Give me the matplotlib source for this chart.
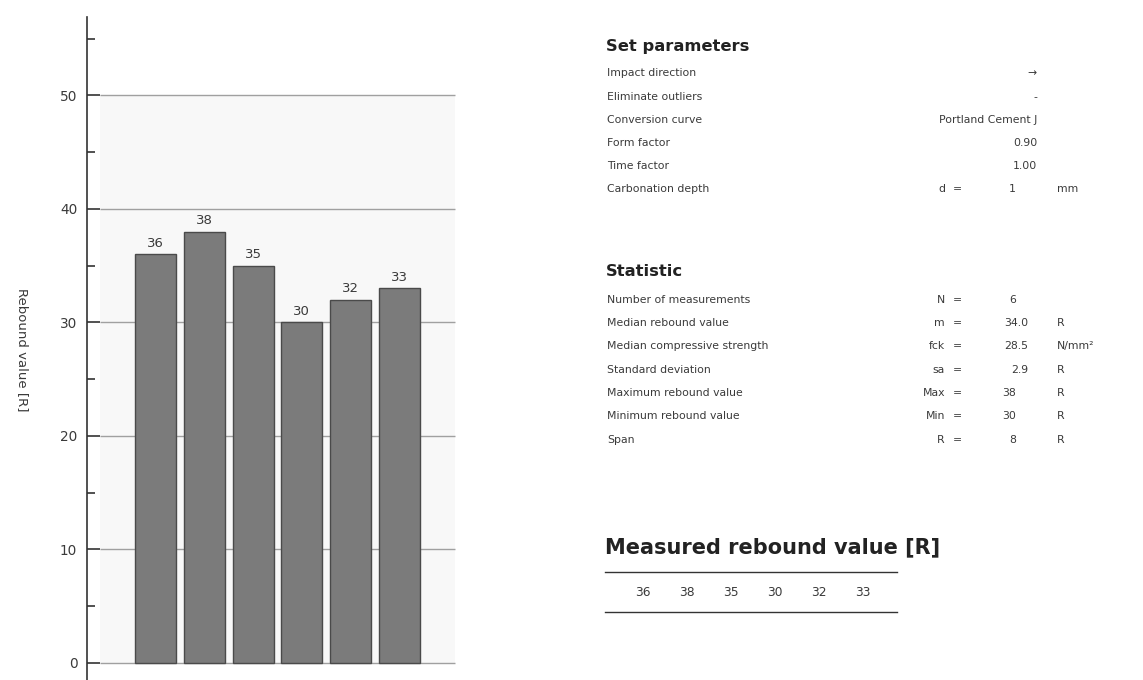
import numpy as np
import matplotlib
matplotlib.use("Agg")
from matplotlib import pyplot as plt
from matplotlib.lines import Line2D

# Data
readings = [36, 38, 35, 30, 32, 33]

param_labels = ["Impact direction", "Eliminate outliers", "Conversion curve",
                "Form factor", "Time factor", "Carbonation depth"]
param_values = ["\u2192", "-", "Portland Cement J", "0.90", "1.00", "1"]

stat_labels = ["Number of measurements", "Median rebound value",
               "Median compressive strength", "Standard deviation",
               "Maximum rebound value", "Minimum rebound value", "Span"]
stat_symbols = ["N", "m", "fck", "sa", "Max", "Min", "R"]
stat_values = ["6", "34.0", "28.5", "2.9", "38", "30", "8"]
stat_units = ["", "R", "N/mm\u00b2", "R", "R", "R", "R"]

W, H = 1143, 680
TXT = "#3a3a3a"
FS = 7.8  # body text size of the right panel


def fx(px):
    return px / W


def fy(py):
    return 1 - py / H


fig = plt.figure(figsize=(W / 100, H / 100), dpi=100)
fig.patch.set_facecolor("white")

# Bar chart
ax = fig.add_axes([fx(87), 0, fx(465) - fx(87), (H - 17) / H])
x = np.arange(len(readings))
ax.set_xlim(-1.40, 6.34)
ax.set_ylim(-1.5, 56.9)

ax.fill_between([-1.14, 6.14], 0, 50, color="#f8f8f8", zorder=0, lw=0)
ax.hlines(np.arange(0, 51, 10), -1.14, 6.14, color="#a0a0a0", lw=1.0, zorder=1)
ax.bar(x, readings, width=0.84, color="#7b7b7b", edgecolor="#4a4a4a",
       linewidth=1.0, zorder=2)
for xi, v in zip(x, readings):
    ax.text(xi, v + 0.4, str(v), ha="center", va="bottom", fontsize=9.5,
            color=TXT, zorder=3)

for s in ["top", "right", "bottom"]:
    ax.spines[s].set_visible(False)
ax.spines["left"].set_color("#333333")
ax.spines["left"].set_linewidth(1.2)
ax.set_xticks([])
ax.set_yticks(np.arange(0, 51, 10))
ax.set_yticks(np.arange(5, 56, 10), minor=True)
ax.tick_params(axis="y", which="major", direction="in", length=9.5,
               width=1.2, color="#333333", labelsize=9.8, labelcolor=TXT, pad=7)
ax.tick_params(axis="y", which="minor", direction="in", length=5.5,
               width=1.2, color="#333333")
ax.patch.set_alpha(0)

fig.text(fx(22), fy(350), "Rebound value [R]", rotation=-90, ha="center",
         va="center", fontsize=9.5, color=TXT)

# Set parameters block
fig.text(fx(606), fy(47), "Set parameters", fontsize=11.8, fontweight="bold",
         color="#222222", va="center")
row_y = [73, 97, 120, 143, 166, 189]
for i, (lab, val) in enumerate(zip(param_labels, param_values)):
    fig.text(fx(607), fy(row_y[i]), lab, fontsize=FS, color=TXT, va="center")
    if i < 5:
        fig.text(fx(1037), fy(row_y[i]), val, fontsize=FS, color=TXT,
                 va="center", ha="right")
fig.text(fx(945), fy(row_y[5]), "d", fontsize=FS, color=TXT, va="center", ha="right")
fig.text(fx(957), fy(row_y[5]), "=", fontsize=FS, color=TXT, va="center", ha="center")
fig.text(fx(1012), fy(row_y[5]), param_values[5], fontsize=FS, color=TXT,
         va="center", ha="center")
fig.text(fx(1057), fy(row_y[5]), "mm", fontsize=FS, color=TXT, va="center")

# Statistic block
fig.text(fx(606), fy(272), "Statistic", fontsize=11.8, fontweight="bold",
         color="#222222", va="center")
stat_y = [300, 323, 346, 370, 393, 416, 440]
for i in range(len(stat_labels)):
    yy = fy(stat_y[i])
    fig.text(fx(607), yy, stat_labels[i], fontsize=FS, color=TXT, va="center")
    fig.text(fx(945), yy, stat_symbols[i], fontsize=FS, color=TXT,
             va="center", ha="right")
    fig.text(fx(957), yy, "=", fontsize=FS, color=TXT, va="center", ha="center")
    xr = 1028 if "." in stat_values[i] else 1016
    fig.text(fx(xr), yy, stat_values[i], fontsize=FS, color=TXT,
             va="center", ha="right")
    if stat_units[i]:
        fig.text(fx(1057), yy, stat_units[i], fontsize=FS, color=TXT, va="center")

# Measured values table
fig.text(fx(605), fy(547), "Measured rebound value [R]", fontsize=15,
         fontweight="bold", color="#222222", va="center")
fig.add_artist(Line2D([fx(605), fx(897)], [fy(572), fy(572)], color="#333333", lw=1.0))
fig.add_artist(Line2D([fx(605), fx(897)], [fy(612), fy(612)], color="#333333", lw=1.0))
for i, v in enumerate(readings):
    fig.text(fx(643 + 44 * i), fy(592), str(v), fontsize=8.8, color=TXT,
             va="center", ha="center")

fig.savefig("out.png", dpi=100)
